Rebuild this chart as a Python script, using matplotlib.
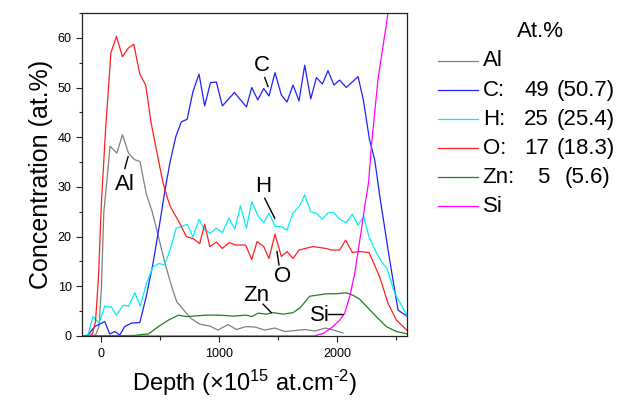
import matplotlib
matplotlib.use('Agg')
import matplotlib.pyplot as plt
from matplotlib.lines import Line2D
from matplotlib.ticker import MultipleLocator

plt.rcParams['font.family'] = ['Liberation Sans', 'DejaVu Sans']
plt.rcParams['mathtext.fontset'] = 'custom'
plt.rcParams['mathtext.rm'] = 'Liberation Sans'
plt.rcParams['mathtext.default'] = 'regular'

# depth profiles (x1e15 at/cm2, at.%)
al_x = [-150, -100, -50, -20, 0, 20, 45, 73, 130, 178, 229, 279, 327, 360, 381, 430, 483,
        539, 596, 638, 709, 760, 833, 918, 988, 1073, 1144, 1226, 1300, 1385, 1470, 1555,
        1640, 1724, 1808, 1900, 1964, 2047]
al_y = [0, 0, 0.2, 2, 10, 25, 31, 38.2, 36.8, 40.5, 36.8, 35.5, 35.1, 31, 28.5, 25, 20,
        14.6, 9.9, 6.9, 4.9, 3.5, 2.4, 2.0, 1.2, 2.3, 1.3, 1.9, 1.8, 1.2, 1.6, 0.9,
        1.1, 1.3, 1.0, 1.6, 1.2, 0.6]

c_x = [-150, -113, -57, 28, 70, 113, 155, 197, 254, 325, 379, 437, 494, 536, 579, 630, 677,
       726, 776, 827, 875, 924, 974, 1025, 1127, 1229, 1274, 1325, 1375, 1420, 1471, 1525,
       1573, 1624, 1675, 1723, 1774, 1822, 1873, 1920, 1971, 2019, 2075, 2175, 2220, 2272,
       2316, 2344, 2360, 2443, 2514, 2596]
c_y = [0, 0.2, 1.9, 2.9, 0.4, 0.9, 0.2, 1.9, 2.6, 2.7, 7.9, 14.6, 22.7, 29, 34.7, 40.1, 43.1,
       43.6, 49.2, 52.7, 46.3, 51.0, 51.1, 46.3, 49.0, 46.1, 50.0, 47.5, 49.8, 48.3, 53.0, 48.5,
       47.1, 50.5, 47.3, 54.5, 47.7, 52.0, 50.7, 53.4, 50.5, 51.5, 50.0, 52.2, 47.5, 39.5,
       35.5, 30.8, 28, 15.3, 5.2, 3.9]

h_x = [-150, -115, -71, -20, 28, 85, 127, 183, 231, 282, 330, 381, 437, 488, 536, 585, 633,
       677, 726, 776, 827, 875, 924, 974, 1025, 1081, 1130, 1178, 1229, 1274, 1325, 1375,
       1420, 1471, 1525, 1573, 1624, 1675, 1723, 1774, 1822, 1873, 1920, 1971, 2019, 2075,
       2127, 2175, 2223, 2268, 2325, 2373, 2420, 2486, 2596]
h_y = [0, 0.2, 3.9, 2.6, 6.0, 5.8, 4.2, 6.2, 6.0, 8.7, 6.0, 10.6, 13.9, 14.6, 14.3, 17.6, 21.7,
       22.0, 22.5, 19.9, 23.5, 21.3, 20.7, 21.7, 20.8, 23.7, 21.5, 26.2, 21.7, 27.0, 24.3, 22.8,
       24.7, 22.1, 22.0, 21.3, 24.8, 26.0, 28.4, 25.0, 24.7, 23.5, 24.8, 24.8, 23.5, 22.8,
       24.5, 22.3, 24.1, 20.0, 17.0, 15.0, 13.6, 8.6, 3.9]

o_x = [-150, -100, -75, -50, -25, 0, 36, 80, 127, 178, 226, 274, 325, 375, 420, 470, 520, 564,
       585, 663, 720, 776, 833, 875, 918, 974, 1025, 1081, 1138, 1222, 1274, 1319, 1375, 1420,
       1471, 1525, 1573, 1624, 1675, 1793, 1907, 1949, 2019, 2070, 2127, 2189, 2268, 2358,
       2429, 2500, 2596]
o_y = [0, 0, 0.5, 3, 12, 27, 42, 57, 60.3, 56.2, 57.9, 58.7, 52.7, 50.5, 43, 37, 31, 27.4,
       26.0, 22.7, 20.0, 19.6, 18.6, 22.5, 18.0, 18.9, 17.6, 18.8, 18.3, 18.3, 15.4, 19.0, 18.0, 15.6,
       20.5, 16.0, 17.0, 15.6, 17.3, 18.0, 17.6, 17.3, 17.3, 19.3, 16.8, 17.0, 16.8, 11.9,
       6.6, 3.2, 1.0]

zn_x = [-150, 281, 337, 398, 483, 568, 653, 720, 776, 889, 1002, 1115, 1229, 1274, 1328, 1398,
        1455, 1540, 1624, 1681, 1766, 1822, 1907, 1992, 2075, 2132, 2189, 2245, 2330, 2415,
        2500, 2596]
zn_y = [0, 0.1, 0.3, 0.4, 1.9, 3.2, 4.2, 3.9, 4.0, 4.2, 4.2, 4.0, 4.2, 3.9, 4.6, 4.4,
        4.7, 4.4, 4.7, 5.6, 8.0, 8.2, 8.5, 8.5, 8.7, 8.2, 7.4, 6.0, 3.9, 1.9,
        0.9, 0.4]

si_x = [-150, 1800, 1880, 1963, 2020, 2062, 2104, 2147, 2175, 2203, 2231, 2265, 2288, 2344,
        2429, 2480]
si_y = [0, 0, 0.5, 1.9, 3.2, 4.6, 7.9, 12.6, 17, 21.3, 26, 31, 38.2, 51.6, 65, 75]

series = [
    ('Al', al_x, al_y, '#808080'),
    ('C', c_x, c_y, '#2020ff'),
    ('H', h_x, h_y, '#00f0f0'),
    ('O', o_x, o_y, '#ff2020'),
    ('Zn', zn_x, zn_y, '#208020'),
    ('Si', si_x, si_y, '#ff00ff'),
]

leg_names = ['Al', 'C:', 'H:', 'O:', 'Zn:', 'Si']
leg_vals = ['', '49', '25', '17', '5', '']
leg_refs = ['', '(50.7)', '(25.4)', '(18.3)', '(5.6)', '']

fig = plt.figure(figsize=(6.25, 4.01), dpi=100)
ax = fig.add_axes([0.1312, 0.1621, 0.52, 0.8055])

for name, xs, ys, col in series:
    ax.plot(xs, ys, color=col, lw=0.9)

ax.set_xlim(-165, 2590)
ax.set_ylim(0, 65)
ax.set_xticks([0, 1000, 2000])
ax.xaxis.set_minor_locator(MultipleLocator(500))
ax.yaxis.set_major_locator(MultipleLocator(10))
ax.yaxis.set_minor_locator(MultipleLocator(5))
ax.tick_params(which='major', direction='out', length=4, width=0.8, labelsize=9, color='#222222')
ax.tick_params(which='minor', direction='out', length=2.5, width=0.8, color='#222222')
ax.tick_params(axis='x', which='major', pad=4, length=4.5)
ax.tick_params(axis='x', which='minor', length=3)
for sp in ax.spines.values():
    sp.set_linewidth(0.9)
    sp.set_color('#222222')

ax.set_xlabel('Depth ($\\times$10$^{15}$ at.cm$^{\u2010 2}$)', fontsize=17, labelpad=6)
ax.set_ylabel('Concentration (at.%)', fontsize=18, labelpad=3)

# element labels with leader lines
notes = [
    ('C', 1356, 54.5, [1384, 1412], [52.0, 50.2]),
    ('Al', 198, 30.4, [226, 198], [36.1, 33.7]),
    ('H', 1370, 30.0, [1384, 1469], [27.7, 23.7]),
    ('O', 1539, 11.9, [1488, 1505], [17.0, 14.3]),
    ('Zn', 1313, 8.2, [1370, 1440], [6.4, 4.7]),
    ('Si', 1850, 4.2, [1920, 2047], [4.4, 4.4]),
]
for txt, tx, ty, lx, ly in notes:
    ax.text(tx, ty, txt, fontsize=16, ha='center', va='center')
    ax.plot(lx, ly, color='black', lw=1)

# legend drawn by hand
W, H = 625.0, 401.0
fig.text(540.5 / W, 1 - 31.7 / H, 'At.%', fontsize=16, ha='center', va='center')
for i, (name, xs, ys, col) in enumerate(series):
    yy = 1 - (61 + 29.1 * i) / H
    fig.add_artist(Line2D([438 / W, 478 / W], [yy, yy], color=col, lw=0.9,
                          transform=fig.transFigure))
    fig.text(482.7 / W, yy, leg_names[i], fontsize=16, ha='left', va='center')
    if leg_vals[i]:
        fig.text(549 / W, yy, leg_vals[i], fontsize=16, ha='right', va='center')
        px = 565 if leg_names[i] == 'Zn:' else 557
        fig.text(px / W, yy, leg_refs[i], fontsize=16, ha='left', va='center')

fig.savefig('out.png', dpi=100)
